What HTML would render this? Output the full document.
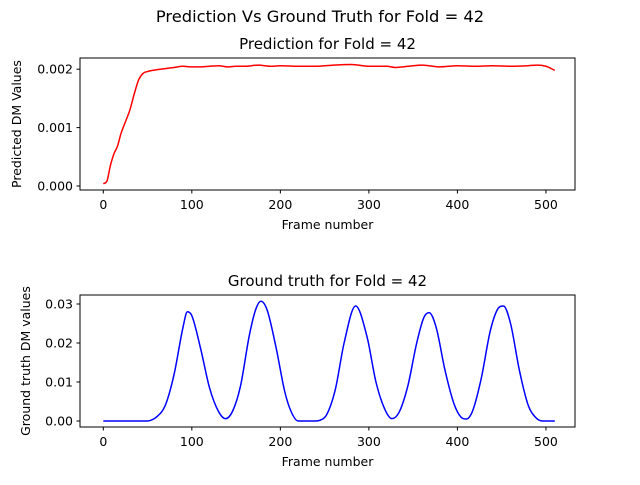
<!DOCTYPE html>
<html><head><meta charset="utf-8"><style>
body{margin:0;background:#fff}
svg{font-family:"DejaVu Sans","Liberation Sans",sans-serif}
</style></head><body>
<svg id="c" width="640" height="480">
<text x="320" y="22" font-size="16.3" text-anchor="middle">Prediction Vs Ground Truth for Fold = 42</text>
</svg>
<script>
const predFrames=[0,4,8,12,16,20,25,30,35,40,45,50,60,70,80,90,100,110,120,130,140,150,160,175,190,200,220,240,260,280,300,320,330,345,360,380,400,420,440,460,480,490,500,510];
const predValues=[0.00004,0.00008,0.00035,0.00055,0.00068,0.0009,0.0011,0.0013,0.00158,0.00182,0.00193,0.00196,0.00199,0.00201,0.00203,0.00205,0.00204,0.00204,0.00205,0.00206,0.00204,0.00205,0.00205,0.00207,0.00205,0.00206,0.00205,0.00205,0.00207,0.00208,0.00205,0.00205,0.00203,0.00205,0.00207,0.00204,0.00206,0.00205,0.00206,0.00205,0.00206,0.00207,0.00205,0.00198];
const gtFrames=[0,50,55,60,70,80,90,95,100,110,120,130,138,146,155,165,172,178,185,195,205,212,220,240,245,252,262,272,285,298,308,318,326,334,344,354,362,368,376,386,396,404,410,417,427,437,445,452,460,470,480,488,496,510];
const gtValues=[0,0,0.0003,0.001,0.004,0.012,0.024,0.028,0.027,0.0185,0.0085,0.0025,0.0006,0.0025,0.009,0.022,0.0285,0.0307,0.0285,0.019,0.0075,0.0025,0,0,0.0002,0.0015,0.008,0.02,0.0295,0.0215,0.01,0.003,0.0006,0.0022,0.009,0.02,0.0265,0.0278,0.024,0.013,0.0045,0.001,0.0005,0.0025,0.011,0.023,0.0285,0.0295,0.025,0.013,0.004,0.001,0,0];
const xTicks=[0,100,200,300,400,500];
const predYTicks=[0,0.001,0.002];
const gtYTicks=[0,0.01,0.02,0.03];
const predTickLabels=["0.000","0.001","0.002"];
const gtTickLabels=["0.00","0.01","0.02","0.03"];
const NS="http://www.w3.org/2000/svg",svg=document.getElementById('c');
function mk(t,a,p){const e=document.createElementNS(NS,t);for(const k in a)e.setAttribute(k,a[k]);(p||svg).appendChild(e);return e;}
const xs=v=>103.3+v*0.8853;
function monotonePath(X,Y){
  const n=X.length,d=[],m=[];
  for(let i=0;i<n-1;i++)d.push((Y[i+1]-Y[i])/(X[i+1]-X[i]));
  m[0]=d[0];m[n-1]=d[n-2];
  for(let i=1;i<n-1;i++){m[i]=(d[i-1]*d[i]<=0)?0:(d[i-1]+d[i])/2;}
  for(let i=0;i<n-1;i++){if(d[i]===0){m[i]=0;m[i+1]=0;continue;}
    const a=m[i]/d[i],b=m[i+1]/d[i],s=a*a+b*b;if(s>9){const t=3/Math.sqrt(s);m[i]=t*a*d[i];m[i+1]=t*b*d[i];}}
  let p='M'+X[0].toFixed(2)+','+Y[0].toFixed(2);
  for(let i=0;i<n-1;i++){const h=(X[i+1]-X[i])/3;
    p+='C'+(X[i]+h).toFixed(2)+','+(Y[i]+m[i]*h).toFixed(2)+' '+(X[i+1]-h).toFixed(2)+','+(Y[i+1]-m[i+1]*h).toFixed(2)+' '+X[i+1].toFixed(2)+','+Y[i+1].toFixed(2);}
  return p;
}
function panel(o){
  const g=mk('g',{});
  
  
  const ys=v=>o.y0-(v/o.unit)*o.upx;
  mk('rect',{x:80,y:o.top,width:495,height:o.bot-o.top,fill:'none',stroke:'#000','stroke-width':1},g);
  xTicks.forEach(t=>{const x=xs(t);mk('line',{x1:x,x2:x,y1:o.bot,y2:o.bot+3.5,stroke:'#000'},g);
    const tx=mk('text',{x:x,y:o.bot+19,'font-size':12.5,'text-anchor':'middle'},g);tx.textContent=t;
    });
  o.ticks.forEach((t,i)=>{const y=ys(t);mk('line',{x1:80,x2:76.5,y1:y,y2:y,stroke:'#000'},g);
    const tx=mk('text',{x:73,y:y+4.5,'font-size':12.5,'text-anchor':'end'},g);tx.textContent=o.labels[i];
    });
  const p=mk('path',{d:monotonePath(o.fx.map(xs),o.vals.map(ys)),fill:'none',stroke:o.color,'stroke-width':1.5,'stroke-linejoin':'round'},g);
  
  const t=mk('text',{x:327.5,y:o.top-9,'font-size':15,'text-anchor':'middle'},g);t.textContent=o.title;
  
  const xl=mk('text',{x:327.5,y:o.bot+39,'font-size':12.5,'text-anchor':'middle'},g);xl.textContent='Frame number';
  
  const cy=(o.top+o.bot)/2;
  const yl=mk('text',{x:o.ylx,y:cy,'font-size':12.5,'text-anchor':'middle',transform:`rotate(-90 ${o.ylx} ${cy})`},g);yl.textContent=o.ylabel;
  
}
panel({name:'prediction-panel',top:58,bot:190,y0:186,unit:0.001,upx:58.4,ticks:predYTicks,labels:predTickLabels,fx:predFrames,vals:predValues,color:'#ff0000',title:'Prediction for Fold = 42',ylabel:'Predicted DM Values',ylx:21});
panel({name:'ground-truth-panel',top:295,bot:427,y0:421,unit:0.01,upx:39,ticks:gtYTicks,labels:gtTickLabels,fx:gtFrames,vals:gtValues,color:'#0000ff',title:'Ground truth for Fold = 42',ylabel:'Ground truth DM values',ylx:30});
</script>
</body></html>
